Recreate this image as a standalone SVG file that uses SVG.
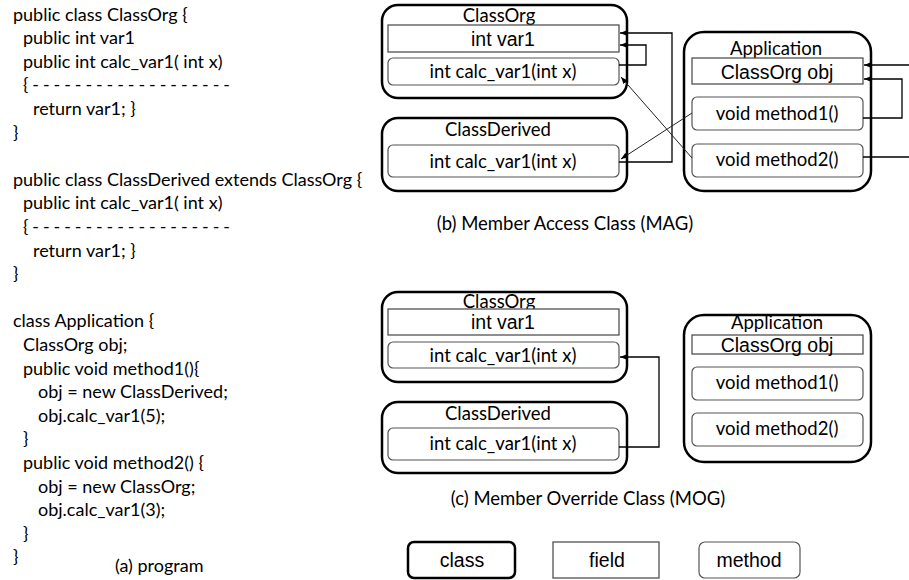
<svg xmlns="http://www.w3.org/2000/svg" width="909" height="580" viewBox="0 0 909 580">
  <style>
    .code { font-family: Lato, "Open Sans", sans-serif; font-size: 18px; fill: #000; }
    .cap { font-family: Lato, "Open Sans", sans-serif; font-size: 18.5px; fill: #000; text-anchor: middle; }
    .lbl { font-family: Lato, "Open Sans", sans-serif; font-size: 18.5px; fill: #000; text-anchor: middle; }
    .fld { font-family: "Liberation Sans", Arial, sans-serif; font-size: 19.5px; fill: #000; text-anchor: middle; }
    .cls { fill: #fff; stroke: #000; stroke-width: 2.5; }
    .field { fill: #fff; stroke: #444; stroke-width: 1.2; }
    .meth { fill: #fff; stroke: #555; stroke-width: 1.2; }
    .con { fill: none; stroke: #000; stroke-width: 1.3; }
    .thin { fill: none; stroke: #222; stroke-width: 1; }
  </style>
  <defs>
    <marker id="ah" viewBox="0 0 10 10" refX="10" refY="5" markerWidth="7" markerHeight="7" markerUnits="userSpaceOnUse" orient="auto">
      <path d="M0,1 L10,5 L0,9 Z" fill="#000"/>
    </marker>
  </defs>

  <!-- (a) source listing -->
  <g id="program">
    <text class="code" x="13" y="20.5">public class ClassOrg {</text>
    <text class="code" x="23" y="44.1">public int var1</text>
    <text class="code" x="23" y="67.7">public int calc_var1( int x)</text>
    <text class="code" x="23" y="91.3" textLength="207" lengthAdjust="spacing">{ - - - - - - - - - - - - - - - - - - -</text>
    <text class="code" x="33" y="114.9">return var1; }</text>
    <text class="code" x="13" y="138.5">}</text>
    <text class="code" x="13" y="185.7">public class ClassDerived extends ClassOrg {</text>
    <text class="code" x="23" y="209.3">public int calc_var1( int x)</text>
    <text class="code" x="23" y="232.9" textLength="207" lengthAdjust="spacing">{ - - - - - - - - - - - - - - - - - - -</text>
    <text class="code" x="33" y="256.5">return var1; }</text>
    <text class="code" x="13" y="280.1">}</text>
    <text class="code" x="13" y="327.3">class Application {</text>
    <text class="code" x="23" y="350.9">ClassOrg obj;</text>
    <text class="code" x="23" y="374.5">public void method1(){</text>
    <text class="code" x="38" y="398.1">obj = new ClassDerived;</text>
    <text class="code" x="38" y="421.7">obj.calc_var1(5);</text>
    <text class="code" x="23" y="445.3">}</text>
    <text class="code" x="23" y="468.9">public void method2() {</text>
    <text class="code" x="38" y="492.5">obj = new ClassOrg;</text>
    <text class="code" x="38" y="516.1">obj.calc_var1(3);</text>
    <text class="code" x="23" y="539.7">}</text>
    <text class="code" x="13" y="563.3">}</text>
    <text class="code" x="115" y="572">(a) program</text>
  </g>

  <!-- (b) member access graph -->
  <g id="mag-classorg">
    <rect class="cls" x="382" y="5" width="245" height="93" rx="16"/>
    <text class="lbl" x="499" y="22">ClassOrg</text>
    <rect class="field" x="388" y="25" width="231" height="27"/>
    <text class="fld" x="503" y="46">int var1</text>
    <rect class="meth" x="388" y="58" width="231" height="27" rx="5"/>
    <text class="lbl" x="503" y="78">int calc_var1(int x)</text>
  </g>
  <g id="mag-classderived">
    <rect class="cls" x="382" y="118" width="245" height="73" rx="16"/>
    <text class="lbl" x="498" y="136">ClassDerived</text>
    <rect class="meth" x="388" y="145" width="231" height="32" rx="5"/>
    <text class="lbl" x="503" y="168">int calc_var1(int x)</text>
  </g>
  <g id="mag-application">
    <rect class="cls" x="684" y="32" width="187" height="159" rx="20"/>
    <text class="lbl" x="776" y="55">Application</text>
    <rect class="field" x="692" y="58" width="171" height="26"/>
    <text class="fld" x="777" y="79">ClassOrg obj</text>
    <rect class="meth" x="692" y="97" width="171" height="33" rx="5"/>
    <text class="lbl" x="777" y="120">void method1()</text>
    <rect class="meth" x="692" y="144" width="171" height="33" rx="5"/>
    <text class="lbl" x="777" y="166">void method2()</text>
  </g>
  <text class="cap" x="565" y="230">(b) Member Access Class (MAG)</text>

  <!-- (c) member override graph -->
  <g id="mog-classorg">
    <rect class="cls" x="382" y="292" width="245" height="90" rx="16"/>
    <text class="lbl" x="499" y="308">ClassOrg</text>
    <rect class="field" x="388" y="309" width="231" height="26"/>
    <text class="fld" x="503" y="329">int var1</text>
    <rect class="meth" x="388" y="342" width="231" height="26" rx="5"/>
    <text class="lbl" x="503" y="362">int calc_var1(int x)</text>
  </g>
  <g id="mog-classderived">
    <rect class="cls" x="382" y="402" width="245" height="71" rx="16"/>
    <text class="lbl" x="498" y="420">ClassDerived</text>
    <rect class="meth" x="388" y="428" width="231" height="32" rx="5"/>
    <text class="lbl" x="503" y="450">int calc_var1(int x)</text>
  </g>
  <g id="mog-application">
    <rect class="cls" x="684" y="315" width="187" height="147" rx="20"/>
    <text class="lbl" x="777" y="329">Application</text>
    <rect class="field" x="692" y="335" width="171" height="19"/>
    <text class="fld" x="777" y="352">ClassOrg obj</text>
    <rect class="meth" x="692" y="367" width="171" height="33" rx="5"/>
    <text class="lbl" x="777" y="389">void method1()</text>
    <rect class="meth" x="692" y="413" width="171" height="33" rx="5"/>
    <text class="lbl" x="777" y="435">void method2()</text>
  </g>
  <text class="cap" x="588" y="505">(c) Member Override Class (MOG)</text>

  <!-- legend -->
  <g id="legend-class">
    <rect class="cls" x="408" y="542" width="107" height="36" rx="6"/>
    <text class="fld" x="462" y="567">class</text>
  </g>
  <g id="legend-field">
    <rect class="field" x="553" y="542" width="106" height="36"/>
    <text class="fld" x="607" y="567">field</text>
  </g>
  <g id="legend-method">
    <rect class="meth" x="699" y="542" width="101" height="36" rx="6"/>
    <text class="fld" x="749" y="567">method</text>
  </g>

  <!-- connectors -->
  <g id="connectors">
    <path class="con" d="M619,162 H672 V33 H620" marker-end="url(#ah)"/>
    <path class="con" d="M619,65 H646 V45 H620" marker-end="url(#ah)"/>
    <path class="thin" d="M692,158 L621,77" marker-end="url(#ah)"/>
    <path class="thin" d="M692,113 L621,159" marker-end="url(#ah)"/>
    <path class="con" d="M909,65 H864" marker-end="url(#ah)"/>
    <path class="con" d="M863,118 H902 V79 H864" marker-end="url(#ah)"/>
    <path class="con" d="M863,157 H909"/>
    <path class="con" d="M619,447 H659 V357 H620" marker-end="url(#ah)"/>
  </g>
</svg>
